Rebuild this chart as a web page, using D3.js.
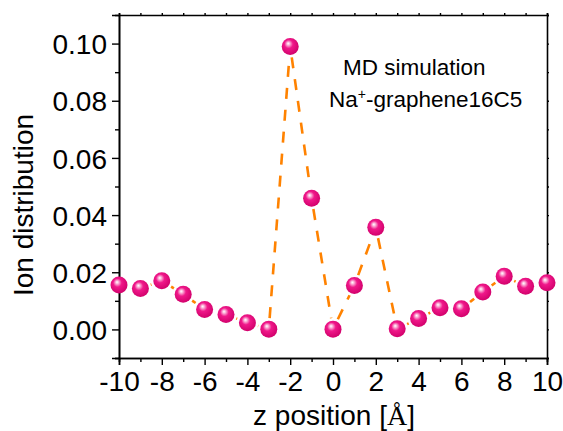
<!DOCTYPE html>
<html>
<head>
<meta charset="utf-8">
<script src="https://cdn.jsdelivr.net/npm/d3@7"></script>
<style>
  body { margin: 0; background: #fff; }
  text { font-family: "Liberation Sans", Arial, sans-serif; fill: #000; }
</style>
</head>
<body>
<div id="chart"></div>
<script>

const zPos = [-10, -9, -8, -7, -6, -5, -4, -3, -2, -1, 0, 1, 2, 3, 4, 5, 6, 7, 8, 9, 10];
const ionDist = [0.0155, 0.0143, 0.0170, 0.0123, 0.0070, 0.0052, 0.0023, 0.0001, 0.0990, 0.0459, 0.0001,
                 0.0154, 0.0357, 0.0002, 0.0038, 0.0076, 0.0072, 0.0131, 0.0186, 0.0151, 0.0163];
const xTicks = [-10, -8, -6, -4, -2, 0, 2, 4, 6, 8, 10];
const yTicks = [0.00, 0.02, 0.04, 0.06, 0.08, 0.10];

let margin = { top: 15, right: 16, bottom: 73, left: 119 },
  width = 563 - margin.left - margin.right,
  height = 431 - margin.top - margin.bottom;

let x = d3.scaleLinear().domain([-10, 10]).range([0, width]);
let y = d3.scaleLinear().domain([-0.01, 0.11]).range([height, 0]);

let svg = d3.select("#chart")
  .append("svg")
  .attr("width", 563)
  .attr("height", 431)
  .append("g")
  .attr("transform", "translate(" + margin.left + "," + margin.top + ")");

// sphere look for the markers
let grad = svg.append("defs").append("radialGradient")
  .attr("id", "ball")
  .attr("cx", "0.45").attr("cy", "0.42").attr("r", "0.6")
  .attr("fx", "0.38").attr("fy", "0.32");
grad.append("stop").attr("offset", "0%").attr("stop-color", "#ffffff");
grad.append("stop").attr("offset", "12%").attr("stop-color", "#fcc6e2");
grad.append("stop").attr("offset", "42%").attr("stop-color", "#f0188a");
grad.append("stop").attr("offset", "100%").attr("stop-color", "#d0006a");

// bottom axis
let xAxis = svg.append("g")
  .attr("transform", "translate(0," + height + ")")
  .call(d3.axisBottom(x).tickValues(xTicks).tickFormat(function (d) { return String(d); }).tickSize(7).tickPadding(6));
svg.append("g")
  .attr("transform", "translate(0," + height + ")")
  .call(d3.axisBottom(x).tickValues(d3.range(-9, 10, 2)).tickFormat("").tickSize(4));

// left axis
let yAxis = svg.append("g")
  .call(d3.axisLeft(y).tickValues(yTicks).tickFormat(d3.format(".2f")).tickSize(7).tickPadding(5));
svg.append("g")
  .call(d3.axisLeft(y).tickValues([-0.01, 0.01, 0.03, 0.05, 0.07, 0.09]).tickFormat("").tickSize(4));

// top and right frame with tiny ticks
svg.append("g")
  .call(d3.axisTop(x).ticks(20).tickFormat("").tickSize(2));
svg.append("g")
  .attr("transform", "translate(" + width + ",0)")
  .call(d3.axisRight(y).ticks(12).tickFormat("").tickSize(2));

svg.selectAll(".domain").attr("stroke", "#000").attr("stroke-width", 1.6);
svg.selectAll(".tick line").attr("stroke", "#000").attr("stroke-width", 1.4);
svg.selectAll(".tick text").style("font-size", "28px").style("font-family", "Liberation Sans, Arial, sans-serif");
yAxis.selectAll(".tick text").attr("dy", "0.36em");

// x-axis title
svg.append("text")
  .attr("transform", "translate(" + (width / 2 + 1) + "," + (height + 67) + ")")
  .style("text-anchor", "middle")
  .style("font-size", "28px")
  .html('z position [<tspan style="font-family: Liberation Serif, Times New Roman, serif">Å</tspan>]');

// y-axis title
svg.append("text")
  .attr("transform", "rotate(-90)")
  .attr("y", -86)
  .attr("x", -(205 - margin.top))
  .style("text-anchor", "middle")
  .style("font-size", "28px")
  .text("Ion distribution");

// dashed connecting line, each segment cut short near the symbols
let pts = zPos.map(function (d, i) { return [x(d), y(ionDist[i])]; });
let gap = 11;
for (let i = 0; i < pts.length - 1; i++) {
  let a = pts[i], b = pts[i + 1];
  let dx = b[0] - a[0], dy = b[1] - a[1];
  let len = Math.sqrt(dx * dx + dy * dy);
  if (len <= 2 * gap) continue;
  let ux = dx / len, uy = dy / len;
  svg.append("line")
    .attr("x1", a[0] + ux * gap).attr("y1", a[1] + uy * gap)
    .attr("x2", b[0] - ux * gap).attr("y2", b[1] - uy * gap)
    .attr("stroke", "#ff8200")
    .attr("stroke-width", 2.6)
    .attr("stroke-dasharray", "11,11");
}

// markers
svg.append("g")
  .selectAll("circle")
  .data(zPos)
  .enter()
  .append("circle")
  .attr("cx", function (d) { return x(d); })
  .attr("cy", function (d, i) { return y(ionDist[i]); })
  .attr("r", 8.5)
  .attr("fill", "url(#ball)");

// annotation
svg.append("text")
  .attr("x", 224).attr("y", 75 - margin.top)
  .style("font-size", "22.5px")
  .text("MD simulation");
svg.append("text")
  .attr("x", 210).attr("y", 107 - margin.top)
  .style("font-size", "22.5px")
  .html('Na<tspan dy="-8" style="font-size:14px">+</tspan><tspan dy="8">-graphene16C5</tspan>');

</script>
</body>
</html>
